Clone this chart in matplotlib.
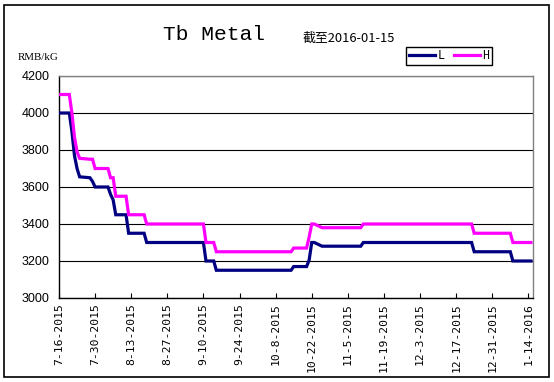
import matplotlib
matplotlib.use("Agg")
import matplotlib.pyplot as plt
import matplotlib.dates as mdates
from matplotlib.patches import Rectangle
import pandas as pd

# ---- data ----
dates = ["2015-07-16", "2015-07-20", "2015-07-21", "2015-07-22", "2015-07-23",
         "2015-07-24", "2015-07-28", "2015-07-29", "2015-07-30", "2015-08-04",
         "2015-08-05", "2015-08-06", "2015-08-07", "2015-08-11", "2015-08-12",
         "2015-08-18", "2015-08-19", "2015-09-10", "2015-09-11", "2015-09-14",
         "2015-09-15", "2015-10-14", "2015-10-15", "2015-10-20", "2015-10-21",
         "2015-10-22", "2015-10-23", "2015-10-26", "2015-11-10", "2015-11-11",
         "2015-12-23", "2015-12-24", "2016-01-07", "2016-01-08", "2016-01-15"]
H = [4100, 4100, 4000, 3870, 3790,
     3755, 3750, 3750, 3700, 3700,
     3650, 3650, 3550, 3550, 3450,
     3450, 3400, 3400, 3300, 3300,
     3250, 3250, 3270, 3270, 3330,
     3400, 3400, 3380, 3380, 3400,
     3400, 3350, 3350, 3300, 3300]
L = [4000, 4000, 3900, 3770, 3700,
     3655, 3650, 3630, 3600, 3600,
     3560, 3530, 3450, 3450, 3350,
     3350, 3300, 3300, 3200, 3200,
     3150, 3150, 3170, 3170, 3205,
     3300, 3300, 3280, 3280, 3300,
     3300, 3250, 3250, 3200, 3200]
tick_dates = ["2015-07-16", "2015-07-30", "2015-08-13", "2015-08-27", "2015-09-10",
              "2015-09-24", "2015-10-08", "2015-10-22", "2015-11-05", "2015-11-19",
              "2015-12-03", "2015-12-17", "2015-12-31", "2016-01-14"]
tick_labels = ["7-16-2015", "7-30-2015", "8-13-2015", "8-27-2015", "9-10-2015",
               "9-24-2015", "10-8-2015", "10-22-2015", "11-5-2015", "11-19-2015",
               "12-3-2015", "12-17-2015", "12-31-2015", "1-14-2016"]
y_ticks = [3000, 3200, 3400, 3600, 3800, 4000, 4200]

x = pd.to_datetime(dates)
xt = pd.to_datetime(tick_dates)

W, Hh = 554, 382
fig = plt.figure(figsize=(W / 100, Hh / 100), dpi=100)
fig.patch.set_facecolor("white")
ax = fig.add_axes([59 / W, 1 - 298 / Hh, (533 - 59) / W, (298 - 76) / Hh])

lL, = ax.plot(x, L, color="#000080", lw=2.3, zorder=3, solid_joinstyle="miter")
lH, = ax.plot(x, H, color="#FF00FF", lw=2.3, zorder=3, solid_joinstyle="miter")

ax.set_ylim(3000, 4200)
ax.set_yticks(y_ticks)
ax.set_yticklabels([str(v) for v in y_ticks], fontfamily="Liberation Sans", fontsize=9)
ax.tick_params(axis="y", length=0, pad=7)

x0 = mdates.date2num(pd.Timestamp("2015-07-16"))
x1 = mdates.date2num(pd.Timestamp("2016-01-15")) + 0.8
ax.set_xlim(x0, x1)
ax.set_xticks(xt)
ax.set_xticklabels(tick_labels, rotation=90, fontfamily="DejaVu Sans Mono", fontsize=8.2,
                   va="top", ha="center")
ax.tick_params(axis="x", direction="in", length=3.5, width=0.8, pad=4)

ax.yaxis.grid(True, color="black", lw=0.8)
ax.set_axisbelow(True)
for s in ["top", "right"]:
    ax.spines[s].set_color("#808080")
    ax.spines[s].set_linewidth(1.0)
for s in ["left", "bottom"]:
    ax.spines[s].set_color("black")
    ax.spines[s].set_linewidth(1.0)

fig.text(214 / W, 1 - 35 / Hh, "Tb Metal", fontfamily="Liberation Mono", fontsize=15.3,
         ha="center", va="center")
fig.text(303 / W, 1 - 38 / Hh, "截至2016-01-15", fontfamily=["Noto Sans CJK SC", "DejaVu Sans"],
         fontsize=9.3, ha="left", va="center")
fig.text(18 / W, 1 - 57 / Hh, "RMB/kG", fontfamily="Liberation Serif", fontsize=7.8,
         ha="left", va="center")

leg = fig.legend([lL, lH], ["L", "H"], loc="center", bbox_to_anchor=(449 / W, 1 - 56 / Hh),
                 ncol=2, frameon=True, fancybox=False, edgecolor="black", framealpha=1,
                 handlelength=2.2, columnspacing=0.8, handletextpad=0.2, borderpad=0.25,
                 prop={"family": "Liberation Mono", "size": 8.5})
leg.get_frame().set_linewidth(1.0)

fig.patches.append(Rectangle((4 / W, 5 / Hh), (549 - 4) / W, (377 - 5) / Hh,
                             transform=fig.transFigure, fill=False, ec="black", lw=1.2))

fig.savefig("out.png", dpi=100)
